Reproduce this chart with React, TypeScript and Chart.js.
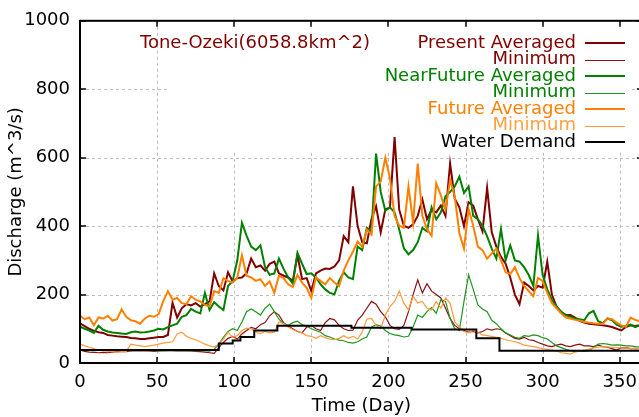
import { useEffect, useRef } from "react";
import { Chart, registerables } from "chart.js";

Chart.register(...registerables);

const FONT = "'DejaVu Sans', 'Liberation Sans', sans-serif";

// sampling days (every 3 days)
const DAYS = Array.from({ length: 122 }, (_, i) => i * 3);

const presentAvg = [
  116, 108, 100, 94, 90, 88, 82, 80, 78, 77,
  76, 73, 72, 70, 70, 72, 74, 76, 76, 82,
  176, 133, 160, 172, 168, 175, 165, 172, 180, 262,
  225, 212, 265, 238, 248, 250, 262, 305, 280, 285,
  270, 290, 296, 262, 255, 250, 240, 315, 245, 248,
  210, 262, 270, 276, 275, 282, 300, 371, 353, 516,
  401, 353, 350, 420, 458, 382, 449, 455, 660, 448,
  401, 395, 405, 430, 478, 420, 448, 440, 460, 430,
  583, 480, 455, 400, 470, 460, 420, 385, 512, 382,
  340, 310, 290, 250, 200, 172, 235, 225, 212, 225,
  220, 296, 200, 165, 148, 140, 140, 133, 123, 118,
  115, 113, 112, 110, 108, 105, 100, 95, 105, 110,
  108, 110,
];

const presentMin = [
  38, 34, 32, 31, 30, 31, 30, 32, 33, 34,
  33, 35, 35, 36, 35, 35, 34, 35, 36, 37,
  36, 35, 35, 36, 35, 34, 33, 32, 30, 28,
  45, 60, 72, 78, 70, 85, 95, 104, 100, 112,
  118, 138, 150, 140, 118, 108, 100, 92, 88, 105,
  110, 100, 95, 118, 130, 126, 110, 100, 95, 96,
  125, 140, 160, 180, 172, 150, 135, 110, 100, 98,
  110, 150, 200, 243, 205, 232, 210, 200, 190, 160,
  130, 110, 100, 95, 90, 92, 88, 92, 100, 96,
  100, 98, 88, 80, 72, 70, 75, 68, 66, 60,
  55, 50, 48, 52, 55, 50, 48, 52, 55, 50,
  50, 48, 52, 48, 46, 42, 38, 44, 45, 42,
  43, 42,
];

const nearAvg = [
  106, 100, 95, 88, 109, 97, 92, 89, 88, 86,
  85, 90, 92, 89, 90, 92, 95, 100, 98, 105,
  110, 115, 135, 140, 158, 150, 145, 205, 155, 178,
  165, 155, 225, 240, 300, 410, 372, 340, 330, 344,
  280, 258, 262, 305, 275, 250, 232, 322, 290, 260,
  262, 250, 230, 215, 205, 201, 240, 265, 250, 245,
  340, 330, 395, 385, 612, 500, 445, 455, 440, 390,
  335, 318, 330, 353, 395, 385, 455, 420, 440, 487,
  500, 516, 545, 497, 516, 430, 420, 401, 370, 334,
  305, 391, 300, 344, 300, 296, 280, 257, 225, 373,
  257, 215, 185, 165, 150, 140, 135, 130, 128, 125,
  145, 152, 122, 116, 130, 125, 112, 106, 108, 112,
  105, 110,
];

const nearMin = [
  40, 38, 37, 36, 37, 38, 37, 36, 37, 38,
  37, 36, 37, 38, 37, 36, 37, 36, 35, 36,
  37, 36, 37, 36, 35, 36, 37, 36, 35, 40,
  55, 75, 92, 100, 95, 120, 150, 158, 150, 140,
  160, 172, 150, 128, 115, 110, 118, 122, 112, 108,
  100, 95, 90, 80, 76, 70, 67, 65, 60, 58,
  62, 70, 76, 105, 112, 108, 95, 86, 82, 80,
  76, 78, 105, 140, 133, 150, 162, 145, 185, 180,
  130, 100, 95, 180, 258, 215, 170, 158, 150, 125,
  115, 100, 88, 82, 75, 72, 80, 78, 82, 80,
  74, 70, 60, 50, 45, 40, 36, 34, 35, 34,
  36, 45, 55, 57, 55, 52, 53, 52, 50, 50,
  48, 47,
];

const futureAvg = [
  138, 128, 133, 110, 133, 130, 138, 124, 128, 157,
  135, 125, 122, 115, 130, 138, 135, 143, 181, 210,
  185, 190, 175, 172, 195, 185, 180, 170, 165, 210,
  205, 248, 240, 235, 250, 315, 255, 250, 240, 245,
  225, 238, 205, 255, 248, 230, 222, 257, 235, 220,
  190, 250, 240, 230, 248, 235, 225, 270, 300, 325,
  355, 340, 390, 375, 516, 530, 600, 540, 430, 401,
  395, 516, 410, 583, 430, 391, 372, 525, 490, 448,
  535, 487, 380, 334, 450, 401, 340, 330, 305, 320,
  334, 300, 265, 260, 280, 248, 225, 210, 195, 248,
  240, 205, 175, 160, 145, 133, 130, 126, 124, 120,
  118, 116, 115, 114, 130, 128, 118, 110, 106, 133,
  126, 122,
];

const futureMin = [
  55, 50, 46, 42, 38, 36, 34, 33, 32, 33,
  34, 55, 52, 50, 48, 50, 52, 55, 58, 60,
  62, 85, 90, 78, 72, 68, 62, 55, 50, 47,
  55, 70, 90, 75, 80, 95, 102, 100, 90, 86,
  92, 88, 90, 120, 115, 105, 98, 92, 88, 80,
  78, 72, 80, 74, 70, 68, 72, 80, 72, 78,
  70, 90, 128, 130, 110, 100, 140, 165, 180, 210,
  175, 155, 195, 175, 180, 160, 155, 180, 160, 190,
  175, 120, 105, 92, 88, 95, 90, 82, 80, 78,
  75, 72, 68, 65, 62, 58, 52, 50, 48, 45,
  42, 40, 38, 35, 30, 28, 26, 32, 35, 38,
  40, 44, 46, 48, 47, 46, 45, 44, 44, 43,
  42, 42,
];

// water demand: value starting from each listed day (step function)
const demandDays = [0, 90, 99, 104, 113, 128, 176, 215, 257, 272, 365];
const demandValues = [38, 57, 66, 76, 95, 109, 103, 98, 72, 36, 36];

const xTickValues = [0, 50, 100, 150, 200, 250, 300, 350];
const yTickValues = [0, 200, 400, 600, 800, 1000];

const TITLE = "Tone-Ozeki(6058.8km^2)";

const SERIES = [
  { label: "Present Averaged", color: "#800000", width: 2, data: presentAvg },
  { label: "Minimum", color: "#8b1010", width: 1.2, data: presentMin },
  { label: "NearFuture Averaged", color: "#008000", width: 2, data: nearAvg },
  { label: "Minimum", color: "#1e961e", width: 1.2, data: nearMin },
  { label: "Future Averaged", color: "#ff8000", width: 2, data: futureAvg },
  { label: "Minimum", color: "#ff9a3a", width: 1.2, data: futureMin },
];
const DEMAND = { label: "Water Demand", color: "#000000", width: 2 };
const LEGEND_TEXT_COLORS = ["#800000", "#800000", "#008000", "#008000", "#ff8000", "#ffa040", "#000000"];

const decor = {
  id: "decor",
  beforeDatasetsDraw(chart: any) {
    const { ctx, chartArea: a, scales } = chart;
    const xs = scales.x;
    const ys = scales.y;
    ctx.save();
    ctx.strokeStyle = "#bdbdbd";
    ctx.lineWidth = 1;
    ctx.setLineDash([3, 3]);
    ctx.beginPath();
    xTickValues.forEach((v) => {
      if (v === 0) return;
      const px = Math.round(xs.getPixelForValue(v)) + 0.5;
      ctx.moveTo(px, a.top);
      ctx.lineTo(px, a.bottom);
    });
    yTickValues.forEach((v) => {
      if (v === 0 || v === 1000) return;
      const py = Math.round(ys.getPixelForValue(v)) + 0.5;
      ctx.moveTo(a.left, py);
      ctx.lineTo(a.right, py);
    });
    ctx.stroke();
    ctx.setLineDash([]);
    ctx.fillStyle = "#ffffff";
    ctx.fillRect(168, 17, 464, 134);
    ctx.restore();
  },
  afterDatasetsDraw(chart: any) {
    const { ctx, chartArea: a, scales } = chart;
    const xs = scales.x;
    const ys = scales.y;
    ctx.save();
    ctx.strokeStyle = "#000";
    ctx.lineWidth = 2;
    ctx.strokeRect(a.left, a.top, a.right - a.left, a.bottom - a.top);
    ctx.lineWidth = 1.5;
    ctx.beginPath();
    xTickValues.forEach((v) => {
      const px = Math.round(xs.getPixelForValue(v));
      ctx.moveTo(px, a.bottom);
      ctx.lineTo(px, a.bottom - 6);
      ctx.moveTo(px, a.top);
      ctx.lineTo(px, a.top + 6);
    });
    yTickValues.forEach((v) => {
      const py = Math.round(ys.getPixelForValue(v));
      ctx.moveTo(a.left, py);
      ctx.lineTo(a.left + 6, py);
      ctx.moveTo(a.right, py);
      ctx.lineTo(a.right - 6, py);
    });
    ctx.stroke();

    // title
    ctx.font = `18px ${FONT}`;
    ctx.textBaseline = "middle";
    ctx.textAlign = "left";
    ctx.fillStyle = "#800000";
    ctx.fillText(TITLE, 140, 43);

    // legend
    const items = [...SERIES, DEMAND];
    items.forEach((s, i) => {
      const y = 43 + i * 16.5;
      ctx.textAlign = "right";
      ctx.fillStyle = LEGEND_TEXT_COLORS[i];
      ctx.fillText(s.label, 576, y);
      ctx.beginPath();
      ctx.strokeStyle = s.color;
      ctx.lineWidth = s.width;
      const yy = Math.round(y) + (s.width < 2 ? 0.5 : 0);
      ctx.moveTo(585, yy);
      ctx.lineTo(625, yy);
      ctx.stroke();
    });
    ctx.restore();
  },
};

export default function App() {
  const ref = useRef<HTMLCanvasElement | null>(null);
  useEffect(() => {
    if (!ref.current) return;
    const n = SERIES.length + 1;
    const datasets: any[] = SERIES.map((s, i) => ({
      label: s.label,
      data: DAYS.map((d, j) => ({ x: d, y: s.data[j] })),
      borderColor: s.color,
      backgroundColor: s.color,
      borderWidth: s.width,
      pointRadius: 0,
      tension: 0,
      fill: false,
      order: n - i,
    }));
    datasets.push({
      label: DEMAND.label,
      data: demandDays.map((d, j) => ({ x: d, y: demandValues[j] })),
      borderColor: DEMAND.color,
      backgroundColor: DEMAND.color,
      borderWidth: DEMAND.width,
      pointRadius: 0,
      stepped: true,
      fill: false,
      order: 0,
    });
    const tickFont = { family: FONT, size: 18 };
    const chart = new Chart(ref.current, {
      type: "line",
      data: { datasets },
      plugins: [decor],
      options: {
        responsive: false,
        maintainAspectRatio: false,
        animation: false,
        layout: { padding: { left: 0, top: 15, right: 2, bottom: 0 } },
        plugins: { legend: { display: false }, tooltip: { enabled: false } },
        scales: {
          x: {
            type: "linear",
            min: 0,
            max: 365,
            ticks: { stepSize: 50, includeBounds: false, padding: 9, color: "#000", font: tickFont, maxRotation: 0, callback: (v: any) => String(v) },
            grid: { display: false, drawTicks: false },
            border: { display: false },
            title: { display: true, text: "Time (Day)", color: "#000", font: tickFont, padding: { top: 0, bottom: 0 } },
            afterFit(s: any) { s.height = 54; },
          },
          y: {
            min: 0,
            max: 1000,
            ticks: { stepSize: 200, padding: 10, color: "#000", font: tickFont, callback: (v: any) => String(v) },
            grid: { display: false, drawTicks: false },
            border: { display: false },
            title: { display: true, text: "Discharge (m^3/s)", color: "#000", font: tickFont, padding: { top: 6, bottom: 0 } },
            afterFit(s: any) { s.width = 80; },
          },
        },
      },
    } as any);
    return () => chart.destroy();
  }, []);
  return (
    <div style={{ position: "absolute", left: 0, top: 0, width: 639, height: 417, overflow: "hidden", background: "#fff" }}>
      <canvas ref={ref} width={646} height={417} style={{ width: 646, height: 417, display: "block" }} />
    </div>
  );
}
